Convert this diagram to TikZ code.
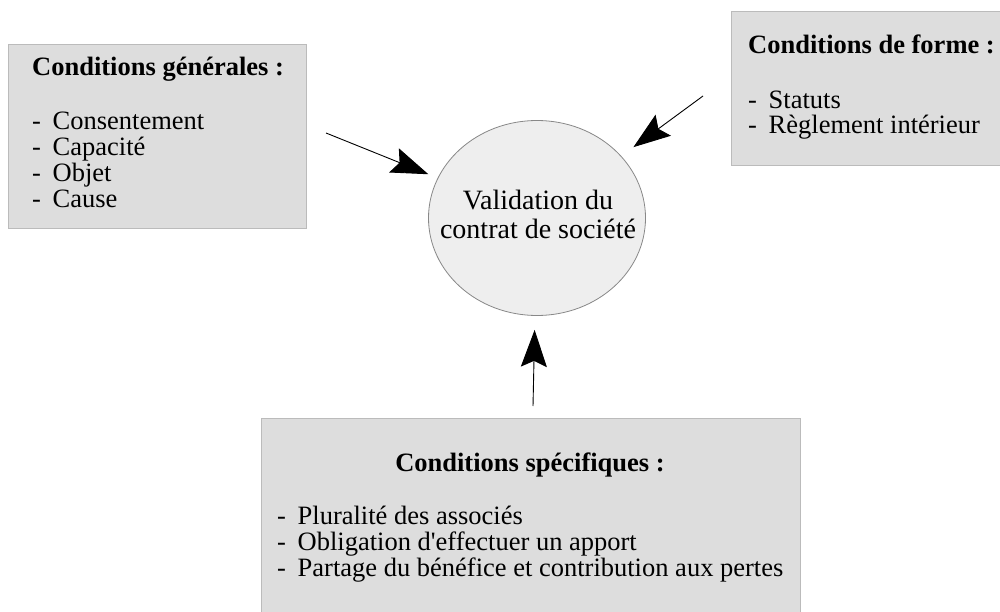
\documentclass[tikz,border=0pt]{standalone}
\usepackage{fontspec}
\setmainfont{Liberation Serif}
\usetikzlibrary{arrows.meta,shapes.geometric}
\definecolor{boxfill}{HTML}{DDDDDD}
\definecolor{boxline}{HTML}{BBBBBB}
\definecolor{ellfill}{HTML}{EEEEEE}
\definecolor{ellline}{HTML}{888888}
\newcommand{\itm}[1]{\makebox[20.5pt][l]{-}#1}
\begin{document}
\begin{tikzpicture}[x=1pt,y=-1pt,
  cbox/.style={draw=boxline, fill=boxfill, line width=1pt, inner sep=0pt, anchor=north west},
  txt/.style={anchor=base west, inner sep=0pt, font=\fontsize{26.5}{26.5}\selectfont},
  hd/.style={anchor=base west, inner sep=0pt, font=\fontsize{26.5}{26.5}\selectfont\bfseries},
  ctxt/.style={anchor=base, inner sep=0pt, font=\fontsize{28}{28}\selectfont},
  arr/.style={-{Stealth[length=37pt,width=26pt,inset=6pt]}, line width=0.9pt, black}]
\useasboundingbox (0,0) rectangle (1000,612);
\clip (0,0) rectangle (1000,612);
\fill[white] (0,0) rectangle (1000,612);

% boxes
\node[cbox, minimum width=298pt, minimum height=184pt] (gen) at (8,44) {};
\node[cbox, minimum width=290pt, minimum height=154pt] (forme) at (731,11) {};
\node[cbox, minimum width=539pt, minimum height=210pt] (spec) at (261,418) {};

% texts box 1
\node[hd] (genh) at (32,76) {Conditions générales :};
\node[txt] (g1) at (32,130) {\itm{Consentement}};
\node[txt] (g2) at (32,156) {\itm{Capacité}};
\node[txt] (g3) at (32,182) {\itm{Objet}};
\node[txt] (g4) at (32,208) {\itm{Cause}};

% texts box 2
\node[hd] (formeh) at (748,54) {Conditions de forme :};
\node[txt] (f1) at (748,109) {\itm{Statuts}};
\node[txt] (f2) at (748,134) {\itm{Règlement intérieur}};

% texts box 3
\node[hd, anchor=base] (spech) at (530,471) {Conditions spécifiques :};
\node[txt] (p1) at (277,524) {\itm{Pluralité des associés}};
\node[txt] (p2) at (277,550) {\itm{Obligation d\textquotesingle effectuer un apport}};
\node[txt] (p3) at (277,576) {\itm{Partage du bénéfice et contribution aux pertes}};

% central ellipse
\node[ellipse, draw=ellline, fill=ellfill, line width=0.8pt, minimum width=217pt, minimum height=195pt,
      inner sep=0pt] (val) at (537,218) {};
\node[ctxt] (v1) at (538,210) {Validation du};
\node[ctxt] (v2) at (538,238) {contrat de société};

% arrows
\coordinate (s1) at (326,133);
\coordinate (s2) at (703,96);
\coordinate (s3) at (533,406);
\draw[arr, shorten >=10pt] (s1) -- (val);
\draw[arr, shorten >=15pt] (s2) -- (val);
\draw[arr, shorten >=14pt] (s3) -- (val);
\end{tikzpicture}
\end{document}
